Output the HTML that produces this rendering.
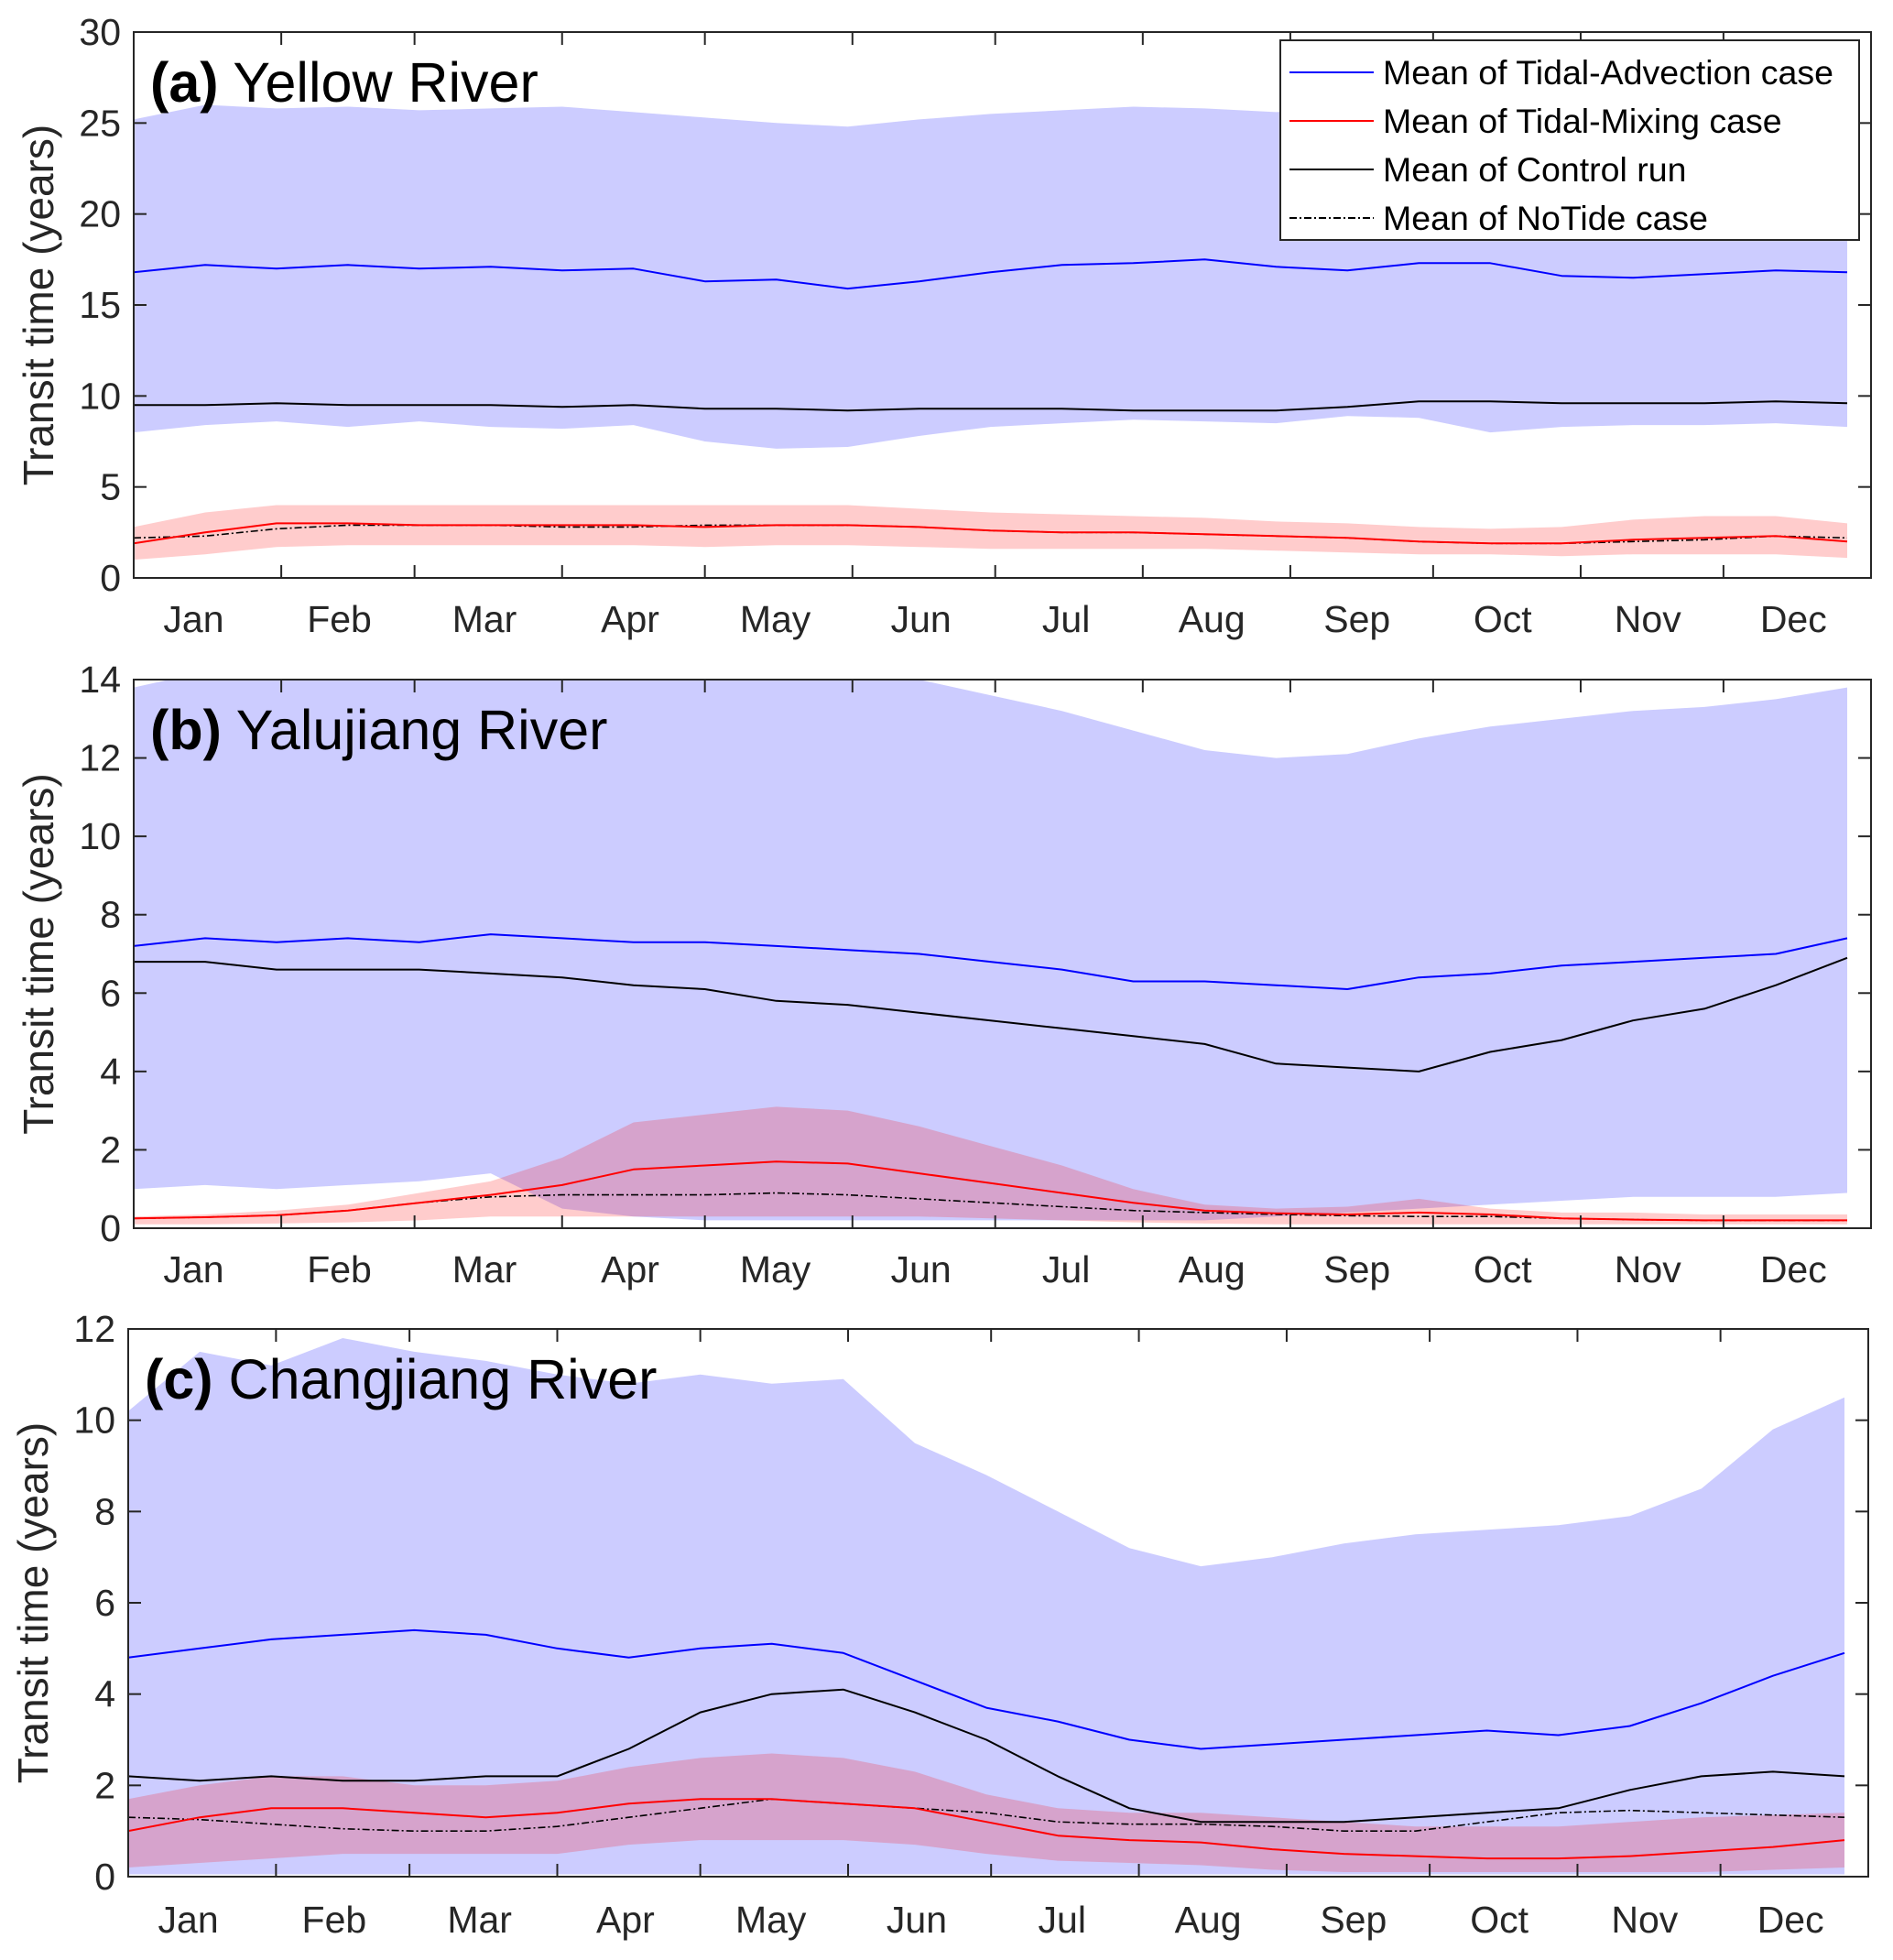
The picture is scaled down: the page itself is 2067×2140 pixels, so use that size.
<!DOCTYPE html>
<html><head><meta charset="utf-8"><style>
html,body{margin:0;padding:0;background:#fff;}
svg{display:block;font-family:"Liberation Sans",Arial,sans-serif;}
</style></head><body>
<svg id="chart" width="2067" height="2140" viewBox="0 0 2067 2140" xmlns="http://www.w3.org/2000/svg"></svg>
<script>
const days = [0,15,30,45,60,75,90,105,120,135,150,165,180,195,210,225,240,255,270,285,300,315,330,345,360];
const monthLabels = ["Jan","Feb","Mar","Apr","May","Jun","Jul","Aug","Sep","Oct","Nov","Dec"];
const monthStarts = [0,31,59,90,120,151,181,212,243,273,304,334,365];
const labelDays = [12.6,43.2,73.7,104.3,134.8,165.4,195.9,226.5,257,287.6,318.1,348.7];

const aBlueHi = [25.2,26,25.8,25.9,25.7,25.8,25.9,25.6,25.3,25,24.8,25.2,25.5,25.7,25.9,25.8,25.6,25.8,26,25.5,25.5,25.4,25.5,25.6,25.5];
const aBlueMean = [16.8,17.2,17,17.2,17,17.1,16.9,17,16.3,16.4,15.9,16.3,16.8,17.2,17.3,17.5,17.1,16.9,17.3,17.3,16.6,16.5,16.7,16.9,16.8];
const aBlueLo = [8,8.4,8.6,8.3,8.6,8.3,8.2,8.4,7.5,7.1,7.2,7.8,8.3,8.5,8.7,8.6,8.5,8.9,8.8,8,8.3,8.4,8.4,8.5,8.3];
const aBlack = [9.5,9.5,9.6,9.5,9.5,9.5,9.4,9.5,9.3,9.3,9.2,9.3,9.3,9.3,9.2,9.2,9.2,9.4,9.7,9.7,9.6,9.6,9.6,9.7,9.6];
const aRedMean = [1.9,2.5,3.0,3.0,2.9,2.9,2.9,2.9,2.8,2.9,2.9,2.8,2.6,2.5,2.5,2.4,2.3,2.2,2.0,1.9,1.9,2.1,2.2,2.3,2.0];
const aRedHi = [2.8,3.6,4.0,4.0,4.0,4.0,4.0,4.0,4.0,4.0,4.0,3.8,3.6,3.5,3.4,3.3,3.1,3.0,2.8,2.7,2.8,3.2,3.4,3.4,3.0];
const aRedLo = [1.0,1.3,1.7,1.8,1.8,1.8,1.8,1.8,1.7,1.8,1.8,1.7,1.6,1.6,1.6,1.6,1.5,1.4,1.3,1.3,1.2,1.3,1.3,1.3,1.1];
const aDash = [2.2,2.3,2.7,2.9,2.9,2.9,2.8,2.8,2.9,2.9,2.9,2.8,2.6,2.5,2.5,2.4,2.3,2.2,2.0,1.9,1.9,2.0,2.1,2.3,2.2];

const bBlueHi = [13.8,14.2,14.5,14.3,14.5,14.2,14.4,14.3,14.5,14.2,14.4,14.0,13.6,13.2,12.7,12.2,12.0,12.1,12.5,12.8,13.0,13.2,13.3,13.5,13.8];
const bBlueLo = [1.0,1.1,1.0,1.1,1.2,1.4,0.5,0.3,0.2,0.2,0.2,0.2,0.2,0.2,0.2,0.2,0.3,0.4,0.5,0.6,0.7,0.8,0.8,0.8,0.9];
const bBlueMean = [7.2,7.4,7.3,7.4,7.3,7.5,7.4,7.3,7.3,7.2,7.1,7.0,6.8,6.6,6.3,6.3,6.2,6.1,6.4,6.5,6.7,6.8,6.9,7.0,7.4];
const bBlack = [6.8,6.8,6.6,6.6,6.6,6.5,6.4,6.2,6.1,5.8,5.7,5.5,5.3,5.1,4.9,4.7,4.2,4.1,4.0,4.5,4.8,5.3,5.6,6.2,6.9];
const bRedMean = [0.25,0.28,0.33,0.45,0.65,0.85,1.1,1.5,1.6,1.7,1.65,1.4,1.15,0.9,0.65,0.45,0.38,0.35,0.4,0.35,0.25,0.22,0.2,0.2,0.2];
const bRedHi = [0.3,0.35,0.45,0.6,0.9,1.2,1.8,2.7,2.9,3.1,3.0,2.6,2.1,1.6,1.0,0.6,0.5,0.55,0.75,0.5,0.4,0.4,0.35,0.35,0.35];
const bRedLo = [0.1,0.1,0.12,0.15,0.2,0.3,0.3,0.3,0.3,0.3,0.3,0.3,0.25,0.2,0.15,0.12,0.1,0.1,0.1,0.1,0.1,0.1,0.1,0.1,0.1];
const bDash = [0.25,0.28,0.33,0.45,0.65,0.8,0.85,0.85,0.85,0.9,0.85,0.75,0.65,0.55,0.45,0.4,0.35,0.32,0.3,0.3,0.25,0.22,0.2,0.2,0.2];

const cBlueHi = [10.2,11.5,11.2,11.8,11.5,11.3,11.0,10.8,11.0,10.8,10.9,9.5,8.8,8.0,7.2,6.8,7.0,7.3,7.5,7.6,7.7,7.9,8.5,9.8,10.5];
const cBlueLo = [0.05,0.05,0.05,0.05,0.05,0.05,0.05,0.05,0.05,0.05,0.05,0.05,0.05,0.05,0.05,0.05,0.05,0.05,0.05,0.05,0.05,0.05,0.05,0.05,0.05];
const cBlueMean = [4.8,5.0,5.2,5.3,5.4,5.3,5.0,4.8,5.0,5.1,4.9,4.3,3.7,3.4,3.0,2.8,2.9,3.0,3.1,3.2,3.1,3.3,3.8,4.4,4.9];
const cBlack = [2.2,2.1,2.2,2.1,2.1,2.2,2.2,2.8,3.6,4.0,4.1,3.6,3.0,2.2,1.5,1.2,1.2,1.2,1.3,1.4,1.5,1.9,2.2,2.3,2.2];
const cRedMean = [1.0,1.3,1.5,1.5,1.4,1.3,1.4,1.6,1.7,1.7,1.6,1.5,1.2,0.9,0.8,0.75,0.6,0.5,0.45,0.4,0.4,0.45,0.55,0.65,0.8];
const cRedHi = [1.7,2.0,2.2,2.2,2.0,2.0,2.1,2.4,2.6,2.7,2.6,2.3,1.8,1.5,1.4,1.4,1.3,1.2,1.1,1.1,1.1,1.2,1.3,1.35,1.4];
const cRedLo = [0.2,0.3,0.4,0.5,0.5,0.5,0.5,0.7,0.8,0.8,0.8,0.7,0.5,0.35,0.3,0.25,0.15,0.1,0.1,0.1,0.1,0.1,0.1,0.15,0.2];
const cDash = [1.3,1.25,1.15,1.05,1.0,1.0,1.1,1.3,1.5,1.7,1.6,1.5,1.4,1.2,1.15,1.15,1.1,1.0,1.0,1.2,1.4,1.45,1.4,1.35,1.3];

const aTicks = [0,5,10,15,20,25,30];
const bTicks = [0,2,4,6,8,10,12,14];
const cTicks = [0,2,4,6,8,10,12];

const NS = "http://www.w3.org/2000/svg";
const svg = document.getElementById("chart");
function mk(tag, attrs, parent){
  const e = document.createElementNS(NS, tag);
  for (const k in attrs) e.setAttribute(k, attrs[k]);
  (parent||svg).appendChild(e);
  return e;
}

const panels = [
  {id:"a", title:"Yellow River", x0:146, x1:2043, y0:35, y1:631, ymax:30, ticks:aTicks, lblY:690,
   hi:aBlueHi, lo:aBlueLo, mean:aBlueMean, black:aBlack, rmean:aRedMean, rhi:aRedHi, rlo:aRedLo, dash:aDash},
  {id:"b", title:"Yalujiang River", x0:146, x1:2043, y0:742, y1:1341, ymax:14, ticks:bTicks, lblY:1400,
   hi:bBlueHi, lo:bBlueLo, mean:bBlueMean, black:bBlack, rmean:bRedMean, rhi:bRedHi, rlo:bRedLo, dash:bDash},
  {id:"c", title:"Changjiang River", x0:140, x1:2040, y0:1451, y1:2049, ymax:12, ticks:cTicks, lblY:2110,
   hi:cBlueHi, lo:cBlueLo, mean:cBlueMean, black:cBlack, rmean:cRedMean, rhi:cRedHi, rlo:cRedLo, dash:cDash}
];

const defs = mk("defs", {});
panels.forEach(p => {
  const xs = d => p.x0 + d / 365 * (p.x1 - p.x0);
  const ys = v => p.y1 - v / p.ymax * (p.y1 - p.y0);
  const g = mk("g", {});
  
  
  const cp = mk("clipPath", {id:"clip-"+p.id}, defs);
  mk("rect", {x:p.x0, y:p.y0, width:p.x1-p.x0, height:p.y1-p.y0}, cp);
  const plot = mk("g", {"clip-path":"url(#clip-"+p.id+")"}, g);

  function band(hi, lo, fill, name){
    let d = "M" + days.map((t,i)=>xs(t).toFixed(1)+","+ys(hi[i]).toFixed(1)).join(" L");
    for (let i = days.length-1; i >= 0; i--) d += " L" + xs(days[i]).toFixed(1)+","+ys(lo[i]).toFixed(1);
    d += " Z";
    const e = mk("path", {d:d, fill:fill, stroke:"none"}, plot);
    
    
  }
  function line(arr, color, w, dash, name){
    const d = "M" + days.map((t,i)=>xs(t).toFixed(1)+","+ys(arr[i]).toFixed(1)).join(" L");
    const e = mk("path", {d:d, fill:"none", stroke:color, "stroke-width":w, "stroke-dasharray":dash||"none", "stroke-linejoin":"round"}, plot);
    
    
  }
  band(p.hi, p.lo, "rgb(204,204,255)", "tidal-advection-range");
  band(p.rhi, p.rlo, "rgba(255,0,0,0.2)", "tidal-mixing-range");
  line(p.mean, "#0000ff", 2, null, "tidal-advection-mean-line");
  line(p.black, "#000", 2, null, "control-run-mean-line");
  line(p.dash, "#000", 1.6, "8,3,2,3", "notide-mean-line");
  line(p.rmean, "#ff0000", 2, null, "tidal-mixing-mean-line");

  const box = mk("rect", {x:p.x0, y:p.y0, width:p.x1-p.x0, height:p.y1-p.y0, fill:"none", stroke:"#262626", "stroke-width":2}, g);
  
  
  p.ticks.forEach(v => {
    const y = ys(v);
    mk("line", {x1:p.x0, x2:p.x0+14, y1:y, y2:y, stroke:"#262626", "stroke-width":2}, g);
    mk("line", {x1:p.x1-14, x2:p.x1, y1:y, y2:y, stroke:"#262626", "stroke-width":2}, g);
    const t = mk("text", {x:p.x0-14, y:y+14, "text-anchor":"end", "font-size":41, fill:"#262626"}, g);
    t.textContent = v;
    
    
  });
  monthStarts.slice(1,12).forEach(d => {
    const x = xs(d);
    mk("line", {x1:x, x2:x, y1:p.y1, y2:p.y1-14, stroke:"#262626", "stroke-width":2}, g);
    mk("line", {x1:x, x2:x, y1:p.y0, y2:p.y0+14, stroke:"#262626", "stroke-width":2}, g);
  });
  monthLabels.forEach((m,i) => {
    const x = xs(labelDays[i]);
    const t = mk("text", {x:x, y:p.lblY, "text-anchor":"middle", "font-size":41, fill:"#262626"}, g);
    t.textContent = m;
    
    
  });
  const cy = (p.y0+p.y1)/2;
  const yt = mk("text", {x:0, y:0, transform:"translate("+(p.x0-88)+","+cy+") rotate(-90)", "text-anchor":"middle", "font-size":46, fill:"#262626"}, g);
  yt.textContent = "Transit time (years)";
  
  
  const tt = mk("text", {x:p.x0+18, y:p.y0+76, "font-size":61, fill:"#000"}, g);
  
  
  const tb = mk("tspan", {"font-weight":"bold"}, tt);
  tb.textContent = "(" + p.id + ")";
  const tn = mk("tspan", {}, tt);
  tn.textContent = " " + p.title;
});

const lg = mk("g", {});


mk("rect", {x:1398, y:44, width:632, height:218, fill:"#fff", stroke:"#262626", "stroke-width":2}, lg);
const legItems = [
  ["Mean of Tidal-Advection case", "#0000ff", "none"],
  ["Mean of Tidal-Mixing case", "#ff0000", "none"],
  ["Mean of Control run", "#000", "none"],
  ["Mean of NoTide case", "#000", "8,3,2,3"]
];
legItems.forEach((it,i) => {
  const y = 79 + i*53;
  const ln = mk("line", {x1:1408, x2:1500, y1:y, y2:y, stroke:it[1], "stroke-width":2, "stroke-dasharray":it[2]}, lg);
  
  
  const t = mk("text", {x:1510, y:y+13, "font-size":37.5, fill:"#000"}, lg);
  t.textContent = it[0];
  
  
});
</script>
</body></html>
